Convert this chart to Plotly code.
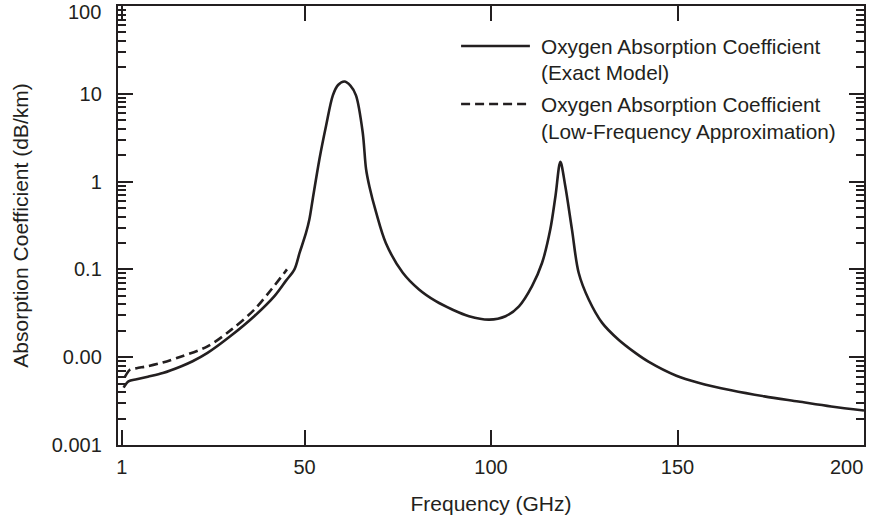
import math
import plotly.graph_objects as go

# ---- data ----
freq_exact = [1.5, 2.8, 5, 8, 12, 17, 20, 24, 30, 36.6, 42, 45, 47.3, 48.7, 50.4, 51.3,
              52.2, 54, 55.8, 57.6, 59, 60.7, 62.3, 63.8, 65.6, 66.5, 67.4, 69.2, 71.8,
              76.3, 80.7, 85.2, 89.6, 94.1, 99.5, 103.9, 107.5, 111.0, 113.7, 115.9,
              117.3, 118.6, 119.9, 121.7, 123.5, 126.2, 129.8, 134.2, 138.7, 142.2,
              149.7, 155.6, 164.4, 173.3, 182.4, 191.2, 200]
alpha_exact = [0.0045, 0.0053, 0.0056, 0.0060, 0.0066, 0.0079, 0.0090, 0.0112, 0.0172,
               0.0295, 0.050, 0.074, 0.10, 0.155, 0.26, 0.37, 0.63, 1.8, 4.35, 9.6, 12.6,
               13.8, 12.4, 9.6, 3.65, 1.39, 0.88, 0.445, 0.20, 0.092, 0.059, 0.0434,
               0.0349, 0.0293, 0.0268, 0.0293, 0.038, 0.0645, 0.119, 0.286, 0.69, 1.68,
               0.895, 0.286, 0.0916, 0.0454, 0.0246, 0.0158, 0.0112, 0.0089, 0.00615,
               0.00512, 0.0042, 0.00358, 0.00313, 0.00275, 0.00247]

freq_approx = [1.9, 3.2, 5, 8, 12, 17, 24, 30.4, 36.6, 41.1, 45.3]
alpha_approx = [0.0060, 0.0072, 0.0075, 0.0079, 0.0087, 0.0102, 0.0133, 0.0206, 0.035,
                0.059, 0.10]

x_ticks = [1, 50, 100, 150, 200]
x_ticktext = ["1", "50", "100", "150", "200"]
y_tickvals = [0.001, 0.01, 0.1, 1, 10, 100]
y_ticktext = ["0.001", "0.00", "0.1", "1", "10", "100"]

legend_lines = [["Oxygen Absorption Coefficient", "(Exact Model)"],
                ["Oxygen Absorption Coefficient", "(Low-Frequency Approximation)"]]

INK = "#231f20"
FONT = "Liberation Sans, Arial, sans-serif"
TICK_SIZE = 20
DASH = "9px,5px"

fig = go.Figure()
fig.add_trace(go.Scatter(x=freq_exact, y=alpha_exact, mode="lines",
                         line=dict(color=INK, width=2.6, shape="spline", smoothing=0.9),
                         showlegend=False, hoverinfo="skip"))
fig.add_trace(go.Scatter(x=freq_approx, y=alpha_approx, mode="lines",
                         line=dict(color=INK, width=2.6, dash=DASH, shape="spline",
                                   smoothing=0.9),
                         showlegend=False, hoverinfo="skip"))

L, R, T, B = 118, 3, 6, 79
W, H = 869, 524
pw, ph = W - L - R, H - T - B


def px_x(x):
    return (x - L) / pw


def px_y(y):
    return (H - B - y) / ph


# manual legend (longer line samples than plotly's legend allows)
sample_y = [46, 104]
text_y = [[46, 73], [104, 131]]
dashes = ["solid", DASH]
for i in range(2):
    fig.add_shape(type="line", xref="paper", yref="paper",
                  x0=px_x(462), x1=px_x(531), y0=px_y(sample_y[i]), y1=px_y(sample_y[i]),
                  line=dict(color=INK, width=2.6, dash=dashes[i]))
    for j, txt in enumerate(legend_lines[i]):
        fig.add_annotation(text=txt, xref="paper", yref="paper", x=px_x(540),
                           y=px_y(text_y[i][j]), xanchor="left", yanchor="middle",
                           showarrow=False, font=dict(size=20.8, color=INK, family=FONT))

# edge tick labels, nudged inside the page as in the reference
x_labels = list(x_ticktext)
x_labels[-1] = ""
y_labels = list(y_ticktext)
y_labels[-1] = ""
fig.add_annotation(text=x_ticktext[-1], xref="x", yref="paper", x=x_ticks[-1], y=0,
                   xanchor="right", yanchor="middle", yshift=-22, xshift=1,
                   showarrow=False, font=dict(size=TICK_SIZE, color=INK, family=FONT))
fig.add_annotation(text=y_ticktext[-1], xref="paper", yref="y", x=0,
                   y=math.log10(y_tickvals[-1]), xanchor="right", yanchor="middle",
                   xshift=-15, yshift=-6,
                   showarrow=False, font=dict(size=TICK_SIZE, color=INK, family=FONT))

fig.update_layout(
    width=W, height=H,
    margin=dict(l=L, r=R, t=T, b=B),
    paper_bgcolor="white", plot_bgcolor="white",
    font=dict(family=FONT, size=TICK_SIZE, color=INK),
    showlegend=False,
)
fig.update_xaxes(
    range=[0, 200], tickvals=x_ticks, ticktext=x_labels,
    ticks="inside", ticklen=15, tickwidth=1.5, tickcolor=INK,
    showline=True, linewidth=2.4, linecolor=INK, mirror="ticks",
    showgrid=False, zeroline=False,
    title=dict(text="Frequency (GHz)", font=dict(size=21), standoff=19),
    tickfont=dict(size=TICK_SIZE), ticklabelstandoff=3,
)
fig.update_yaxes(
    type="log", range=[-3, 2], tickvals=y_tickvals, ticktext=y_labels,
    ticks="inside", ticklen=15, tickwidth=1.5, tickcolor=INK,
    minor=dict(ticks="inside", ticklen=8, tickwidth=1.5, tickcolor=INK, dtick="D1",
               showgrid=False),
    showline=True, linewidth=2.4, linecolor=INK, mirror="ticks",
    showgrid=False, zeroline=False,
    title=dict(text="Absorption Coefficient (dB/km)", font=dict(size=21), standoff=17),
    tickfont=dict(size=TICK_SIZE), ticklabelstandoff=10,
)

fig.write_html("out.html")
